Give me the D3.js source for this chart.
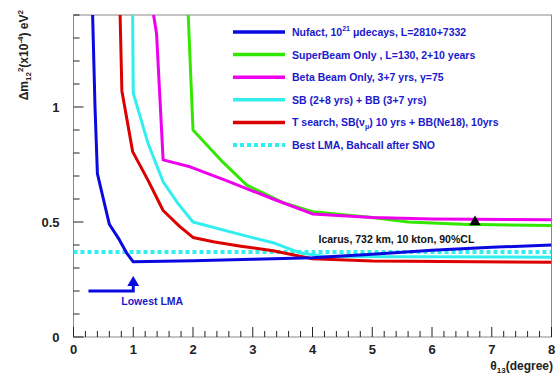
<!DOCTYPE html>
<html>
<head>
<meta charset="utf-8">
<script src="https://cdn.jsdelivr.net/npm/d3@7"></script>
<style>
  body { margin: 0; background: #fff; }
  svg text { font-family: "Liberation Sans", Arial, Helvetica, sans-serif; font-weight: bold; }
</style>
</head>
<body>
<svg id="chart" width="556" height="377"></svg>
<script>
// Axis ticks
const xMajorTicks = [0, 1, 2, 3, 4, 5, 6, 7, 8];
const yMajorTicks = [0, 0.5, 1];

// Sensitivity contours: [theta13 (deg), dm12^2 (1e-4 eV^2)]
const nufact = [[0.32,1.4],[0.36,1.0],[0.40,0.71],[0.5,0.6],[0.6,0.49],[0.75,0.43],[0.89,0.365],[1.0,0.327],[2,0.332],[3,0.338],[4,0.345],[5,0.36],[6,0.377],[7,0.39],[8,0.40]];
const superBeam = [[1.92,1.4],[2.0,0.9],[2.5,0.76],[2.9,0.66],[3.5,0.585],[4,0.545],[5,0.52],[5.6,0.5],[6.5,0.49],[8,0.485]];
const betaBeam = [[1.34,1.4],[1.39,1.32],[1.5,0.77],[1.95,0.74],[2.56,0.68],[3.34,0.6],[4,0.535],[5,0.52],[6,0.513],[8,0.51]];
const sbPlusBb = [[0.99,1.4],[1.0,1.06],[1.25,0.84],[1.5,0.675],[1.75,0.58],[2.0,0.5],[2.8,0.445],[3.34,0.41],[3.8,0.365],[4.2,0.35],[8,0.347]];
const tSearch = [[0.78,1.4],[0.81,1.07],[0.99,0.806],[1.25,0.68],[1.5,0.55],[1.78,0.48],[2.0,0.433],[2.34,0.414],[2.8,0.395],[3.34,0.375],[4.0,0.34],[5,0.33],[8,0.325]];

// Reference values
const bestLma = 0.37;
const lowestLma = { from: 0.25, to: 1.0, y: 0.2, tip: 0.265 };
const icarusPoint = [6.72, 0.5];

const seriesColors = ["#0a0ae0", "#33e800", "#ee00ee", "#33eeee", "#dd0000", "#33eeee"];

// Legend entries: text parts with optional super/subscript
const legendItems = [
  { color: seriesColors[0], dashed: false, parts: [["Nufact, 10"], ["21", "sup"], [" \u03bcdecays, L=2810+7332"]] },
  { color: seriesColors[1], dashed: false, parts: [["SuperBeam Only , L=130, 2+10 years"]] },
  { color: seriesColors[2], dashed: false, parts: [["Beta Beam Only, 3+7 yrs, \u03b3=75"]] },
  { color: seriesColors[3], dashed: false, parts: [["SB (2+8 yrs) + BB (3+7 yrs)"]] },
  { color: seriesColors[4], dashed: false, parts: [["T search, SB(\u03bd"], ["\u03bc", "sub"], [") 10 yrs + BB(Ne18), 10yrs"]] },
  { color: seriesColors[5], dashed: true,  parts: [["Best LMA, Bahcall after SNO"]] }
];

const svg = d3.select("#chart");
const margin = { left: 73.5, right: 4.5, top: 15, bottom: 40 };
const W = 556, H = 377;

const x = d3.scaleLinear().domain([0, 8]).range([margin.left, W - margin.right]);
const y = d3.scaleLinear().domain([0, 1.4]).range([H - margin.bottom, margin.top]);

svg.append("defs").append("clipPath").attr("id", "plotClip")
  .append("rect")
  .attr("x", x(0)).attr("y", y(1.4))
  .attr("width", x(8) - x(0)).attr("height", y(0) - y(1.4));

// Frame
svg.append("rect")
  .attr("x", x(0)).attr("y", y(1.4))
  .attr("width", x(8) - x(0)).attr("height", y(0) - y(1.4))
  .attr("fill", "none").attr("stroke", "#888").attr("stroke-width", 1);

// Ticks drawn inward
const tickColor = "#222";
const xMinor = d3.range(0, 8.001, 0.2).map(v => +v.toFixed(1));
svg.append("g").selectAll("line").data(xMinor).join("line")
  .attr("x1", d => x(d)).attr("x2", d => x(d))
  .attr("y1", y(0))
  .attr("y2", d => y(0) - (Math.abs(d - Math.round(d)) < 1e-6 ? 10 : 6))
  .attr("stroke", tickColor).attr("stroke-width", 1);

const yMinor = d3.range(0, 1.401, 0.1).map(v => +v.toFixed(1));
svg.append("g").selectAll("line").data(yMinor).join("line")
  .attr("y1", d => y(d)).attr("y2", d => y(d))
  .attr("x1", x(0))
  .attr("x2", d => x(0) + (Math.abs(d * 2 - Math.round(d * 2)) < 1e-6 ? 10 : 6))
  .attr("stroke", tickColor).attr("stroke-width", 1);

// Tick labels
svg.append("g").selectAll("text").data(xMajorTicks).join("text")
  .attr("x", d => x(d)).attr("y", y(0) + 17)
  .attr("text-anchor", "middle").attr("font-size", 13).attr("fill", "#222")
  .text(d => d);

svg.append("g").selectAll("text").data(yMajorTicks).join("text")
  .attr("x", x(0) - 14).attr("y", d => y(d) + 5)
  .attr("text-anchor", "end").attr("font-size", 13).attr("fill", "#222")
  .text(d => d);

// Axis titles
const xt = svg.append("text").attr("x", W - 3).attr("y", H - 7)
  .attr("text-anchor", "end").attr("font-size", 12).attr("fill", "#222");
xt.append("tspan").text("\u03b8");
xt.append("tspan").attr("font-size", 8).attr("dy", 3).text("13");
xt.append("tspan").attr("dy", -3).text("(degree)");

const yt = svg.append("text")
  .attr("transform", `translate(28,${y(1.4) - 5}) rotate(-90)`)
  .attr("text-anchor", "end").attr("font-size", 12).attr("fill", "#222");
yt.append("tspan").text("\u0394m");
yt.append("tspan").attr("font-size", 8).attr("dy", 3).text("12");
yt.append("tspan").attr("font-size", 8).attr("dy", -8).text("2");
yt.append("tspan").attr("dy", 5).text("(x10");
yt.append("tspan").attr("font-size", 8).attr("dy", -5).text("-4");
yt.append("tspan").attr("dy", 5).text(") eV");
yt.append("tspan").attr("font-size", 8).attr("dy", -5).text("2");

// Curves
const line = d3.line().x(d => x(d[0])).y(d => y(d[1]));
const plot = svg.append("g").attr("clip-path", "url(#plotClip)");

// Best-fit LMA reference
plot.append("line")
  .attr("x1", x(0)).attr("x2", x(8))
  .attr("y1", y(bestLma)).attr("y2", y(bestLma))
  .attr("stroke", seriesColors[5]).attr("stroke-width", 4)
  .attr("stroke-dasharray", "4,3");

const curves = [tSearch, sbPlusBb, nufact, superBeam, betaBeam];
const curveColors = [seriesColors[4], seriesColors[3], seriesColors[0], seriesColors[1], seriesColors[2]];
plot.selectAll("path.curve").data(curves).join("path")
  .attr("class", "curve")
  .attr("d", line)
  .attr("fill", "none")
  .attr("stroke", (d, i) => curveColors[i])
  .attr("stroke-width", 3)
  .attr("stroke-linejoin", "round");

// Lowest LMA arrow
plot.append("path")
  .attr("d", line([[lowestLma.from, lowestLma.y], [lowestLma.to, lowestLma.y], [lowestLma.to, lowestLma.tip - 0.03]]))
  .attr("fill", "none").attr("stroke", seriesColors[0]).attr("stroke-width", 3);
plot.append("path")
  .attr("d", `M${x(lowestLma.to) - 6},${y(lowestLma.tip) + 10} L${x(lowestLma.to)},${y(lowestLma.tip)} L${x(lowestLma.to) + 6},${y(lowestLma.tip) + 10} Z`)
  .attr("fill", seriesColors[0]);
svg.append("text")
  .attr("x", x(0.8)).attr("y", y(lowestLma.y) + 14)
  .attr("font-size", 10.5).attr("fill", "#1a1acc")
  .text("Lowest LMA");

// Icarus marker and label
svg.append("path")
  .attr("d", d3.symbol().type(d3.symbolTriangle).size(55)())
  .attr("transform", `translate(${x(icarusPoint[0])},${y(icarusPoint[1])})`)
  .attr("fill", "#000");
svg.append("text")
  .attr("x", x(4.1)).attr("y", y(0.41))
  .attr("font-size", 10.5).attr("fill", "#111")
  .text("Icarus, 732 km, 10 kton, 90%CL");

// Legend
const legend = svg.append("g");
const lx0 = 233, lx1 = 285, ly0 = 32, ldy = 22.6;
legendItems.forEach((item, i) => {
  const yy = ly0 + i * ldy;
  legend.append("line")
    .attr("x1", lx0).attr("x2", lx1).attr("y1", yy).attr("y2", yy)
    .attr("stroke", item.color).attr("stroke-width", item.dashed ? 4 : 3.5)
    .attr("stroke-dasharray", item.dashed ? "4,3" : null);
  const t = legend.append("text").attr("x", 292).attr("y", yy + 4)
    .attr("font-size", 10.5).attr("fill", "#1a1acc");
  let prevKind = null;
  item.parts.forEach(([s, kind]) => {
    const ts = t.append("tspan").text(s);
    if (kind === "sup") ts.attr("font-size", 7).attr("dy", -5);
    else if (kind === "sub") ts.attr("font-size", 7).attr("dy", 3);
    else if (prevKind === "sup") ts.attr("dy", 5);
    else if (prevKind === "sub") ts.attr("dy", -3);
    prevKind = kind || null;
  });
});
</script>
</body>
</html>
